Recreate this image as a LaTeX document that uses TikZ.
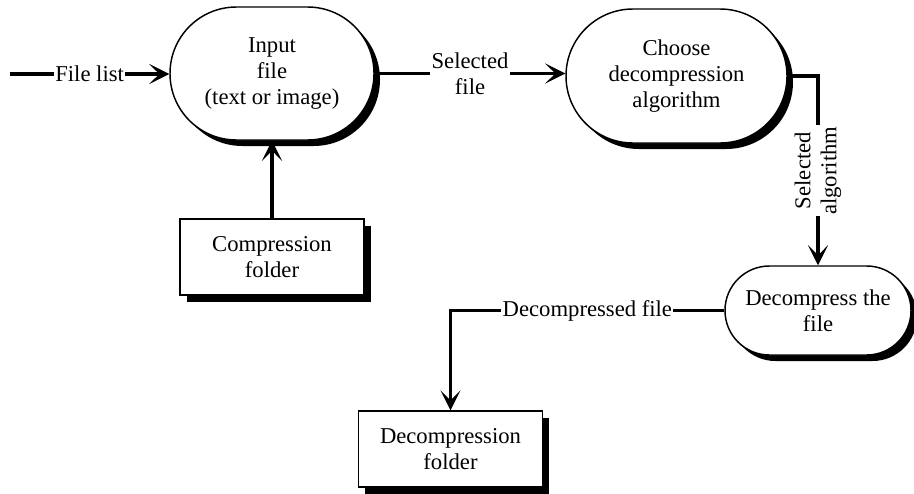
\documentclass[tikz,border=0pt]{standalone}
\usepackage{fontspec}
\setmainfont{Liberation Serif}
\usetikzlibrary{arrows.meta,shadows}

\tikzset{
  txt/.style={font=\fontsize{17}{19.5}\selectfont, align=center},
  process/.style={txt, draw, line width=1.1pt, fill=white, rectangle,
    drop shadow={shadow xshift=4.5pt, shadow yshift=-4.5pt, fill=black, opacity=1}},
  store/.style={txt, draw, line width=0.9pt, fill=white, rectangle,
    minimum width=138pt, minimum height=57pt,
    drop shadow={shadow xshift=5pt, shadow yshift=-5pt, fill=black, opacity=1}},
  flow/.style={line width=2.6pt, -{Stealth[length=15pt, width=15pt, inset=7.5pt]}},
  flowlabel/.style={txt, fill=white, inner sep=1pt},
}

\begin{document}
\begin{tikzpicture}[x=0.75pt, y=-0.75pt]
  \useasboundingbox (0,0) rectangle (914,493);

  % processes
  \node[process, minimum width=153pt, minimum height=99.75pt, rounded corners=49.8pt]
    (input) at (272,73.5) {Input\\file\\(text or image)};
  \node[process, minimum width=165.75pt, minimum height=100.5pt, rounded corners=50.2pt]
    (choose) at (676.5,76) {Choose\\decompression\\algorithm};
  \node[process, minimum width=139.5pt, minimum height=66.75pt, rounded corners=33.3pt]
    (decomp) at (818,310.5) {Decompress the\\file};

  % data stores
  \node[store] (cfolder) at (272,257) {Compression\\folder};
  \node[store] (dfolder) at (450.5,449) {Decompression\\folder};

  % external input
  \coordinate (src) at (10,74);

  % flows
  \draw[flow] (src) -- node[flowlabel] {File list} (src -| input.west);
  \draw[flow] (input.east) -- node[flowlabel] {Selected\\file} (input.east -| choose.west);
  \draw[flow] (cfolder.north) -- (input.south);
  \draw[flow] (choose.east) -| node[flowlabel, pos=0.75, rotate=90] {Selected\\algorithm} (decomp.north);
  \draw[flow] (decomp.west) -| node[flowlabel, pos=0.25] {Decompressed file} (dfolder.north);
\end{tikzpicture}
\end{document}
